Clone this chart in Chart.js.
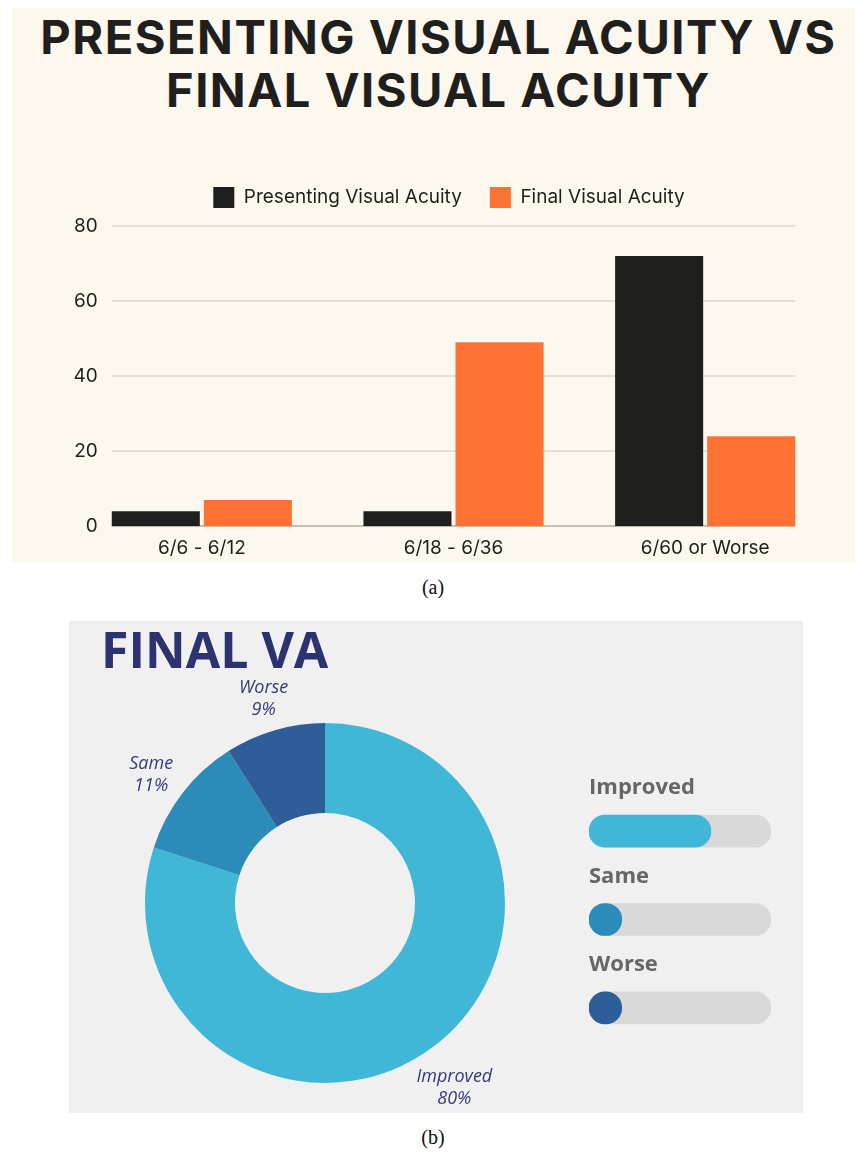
<!DOCTYPE html>
<html>
<head>
<meta charset="utf-8">
<script src="https://cdn.jsdelivr.net/npm/chart.js@4"></script>
<style>
  body { margin: 0; width: 855px; height: 1152px; background: #fff; position: relative; overflow: hidden; }
  #panelA { position: absolute; left: 12px; top: 8px; width: 843px; height: 554px; background: #fcf8ee; }
  #titleA { position: absolute; left: 0; top: 10px; width: 877px; text-align: center;
    font-family: Inter, sans-serif; font-weight: 700; font-size: 47px; line-height: 53px;
    letter-spacing: 1.5px; color: #1f201d; }
  #barCanvas { position: absolute; left: 12px; top: 150px; }
  #panelB { position: absolute; left: 69px; top: 621px; width: 734px; height: 492px; background: #f0f0f0; }
  #titleB { position: absolute; left: 101px; top: 615px; font-family: "Open Sans", sans-serif;
    font-weight: 700; font-size: 50px; color: #2d3270; }
  #pieCanvas { position: absolute; left: 69px; top: 621px; }
  #progCanvas { position: absolute; left: 570px; top: 750px; }
  .cap { position: absolute; left: 403px; width: 60px; text-align: center;
    font-family: "Liberation Serif", serif; font-size: 20px; color: #111; }
</style>
</head>
<body>
<div id="panelA"></div>
<div id="titleA">PRESENTING VISUAL ACUITY VS<br>FINAL VISUAL ACUITY</div>
<canvas id="barCanvas" width="843" height="424"></canvas>
<div class="cap" style="top:576px;">(a)</div>

<div id="panelB"></div>
<div id="titleB">FINAL VA</div>
<canvas id="pieCanvas" width="500" height="492"></canvas>
<canvas id="progCanvas" width="220" height="320"></canvas>
<div class="cap" style="top:1126px;">(b)</div>

<script>
// bar chart data
const vaCategories = ["6/6 - 6/12", "6/18 - 6/36", "6/60 or Worse"];
const presentingVA = [4, 4, 72];
const finalVA = [7, 49, 24];
const yTicks = [0, 20, 40, 60, 80];

// donut data
const outcomeLabels = ["Improved", "Same", "Worse"];
const outcomePct = [80, 11, 9];
const outcomeColors = ["#41b7d7", "#2b8bb9", "#2d5e97"];

// progress bars as drawn (percent of track)
const progressFill = [67, 18, 18];
const progressTrack = [100, 100, 100];

const tickFont = "19px Inter, sans-serif";

// gridlines + y labels only across the bar span
const spanGrid = {
  id: "spanGrid",
  beforeDatasetsDraw(chart) {
    const ctx = chart.ctx;
    const y = chart.scales.y;
    const first = chart.getDatasetMeta(0).data[0];
    const last = chart.getDatasetMeta(1).data[vaCategories.length - 1];
    const x0 = first.x - first.width / 2;
    const x1 = last.x + last.width / 2;
    ctx.save();
    yTicks.forEach(v => {
      const py = Math.round(y.getPixelForValue(v));
      ctx.strokeStyle = v === 0 ? "#c3bfb6" : "#dcd7cc";
      ctx.lineWidth = v === 0 ? 2 : 1.5;
      ctx.beginPath();
      ctx.moveTo(x0, py);
      ctx.lineTo(x1, py);
      ctx.stroke();
      ctx.fillStyle = "#1f201d";
      ctx.font = tickFont;
      ctx.textAlign = "right";
      ctx.textBaseline = "middle";
      ctx.fillText(String(v), x0 - 14, py);
    });
    ctx.restore();
  }
};

const fixedLegend = {
  id: "fixedLegend",
  beforeInit(chart) {
    const fit = chart.legend.fit;
    chart.legend.fit = function () {
      fit.bind(chart.legend)();
      this.height = 67;
    };
  }
};

new Chart(document.getElementById("barCanvas"), {
  type: "bar",
  data: {
    labels: vaCategories,
    datasets: [
      { label: "Presenting Visual Acuity", data: presentingVA, backgroundColor: "#1e1f1c" },
      { label: "Final Visual Acuity", data: finalVA, backgroundColor: "#fe7333" }
    ]
  },
  options: {
    responsive: false,
    animation: false,
    categoryPercentage: 0.7316,
    barPercentage: 0.9565,
    layout: { padding: { left: 55, right: 24, top: 9, bottom: 3 } },
    plugins: {
      tooltip: { enabled: false },
      legend: {
        position: "top",
        labels: {
          boxWidth: 21, boxHeight: 21, padding: 28, color: "#1f201d",
          font: { family: "Inter, sans-serif", size: 19 }
        }
      }
    },
    scales: {
      x: {
        offset: true,
        grid: { display: false, drawTicks: false },
        border: { display: false },
        ticks: { padding: 11, color: "#1f201d", font: { family: "Inter, sans-serif", size: 19 } }
      },
      y: {
        min: 0, max: 80,
        afterFit(scale) { scale.width = 9; },
        grid: { display: false, drawTicks: false },
        border: { display: false },
        ticks: { display: false, stepSize: 20 }
      }
    }
  },
  plugins: [spanGrid, fixedLegend]
});

// donut outside labels
const outsideLabels = {
  id: "outsideLabels",
  afterDatasetsDraw(chart) {
    const ctx = chart.ctx;
    ctx.save();
    ctx.font = "italic 18px 'Open Sans', sans-serif";
    ctx.fillStyle = "#363b77";
    ctx.textAlign = "center";
    ctx.textBaseline = "middle";
    chart.getDatasetMeta(0).data.forEach((arc, i) => {
      const p = arc.getProps(["x", "y", "startAngle", "endAngle", "outerRadius"]);
      const mid = (p.startAngle + p.endAngle) / 2;
      const r = p.outerRadius + 40;
      const cx = p.x + Math.cos(mid) * r;
      const cy = p.y + Math.sin(mid) * r;
      ctx.fillText(outcomeLabels[i], cx, cy - 4);
      ctx.fillText(outcomePct[i] + "%", cx, cy + 18);
    });
    ctx.restore();
  }
};

new Chart(document.getElementById("pieCanvas"), {
  type: "doughnut",
  data: {
    labels: outcomeLabels,
    datasets: [{ data: outcomePct, backgroundColor: outcomeColors, borderWidth: 0 }]
  },
  options: {
    responsive: false,
    animation: false,
    cutout: "50%",
    layout: { padding: { left: 76, right: 64, top: 102, bottom: 30 } },
    plugins: { legend: { display: false }, tooltip: { enabled: false } }
  },
  plugins: [outsideLabels]
});

// progress bar labels above each track
const progLabels = {
  id: "progLabels",
  afterDatasetsDraw(chart) {
    const ctx = chart.ctx;
    ctx.save();
    ctx.font = "700 22px 'Open Sans', sans-serif";
    ctx.fillStyle = "#666666";
    ctx.textAlign = "left";
    ctx.textBaseline = "alphabetic";
    chart.getDatasetMeta(1).data.forEach((bar, i) => {
      ctx.fillText(outcomeLabels[i], chart.scales.x.getPixelForValue(0), bar.y - 37);
    });
    ctx.restore();
  }
};

new Chart(document.getElementById("progCanvas"), {
  type: "bar",
  data: {
    labels: outcomeLabels,
    datasets: [
      { data: progressFill, backgroundColor: outcomeColors, grouped: false,
        barThickness: 32, borderRadius: 16, borderSkipped: false },
      { data: progressTrack, backgroundColor: "#d9d9d9", grouped: false,
        barThickness: 32, borderRadius: 16, borderSkipped: false }
    ]
  },
  options: {
    indexAxis: "y",
    responsive: false,
    animation: false,
    layout: { padding: { left: 19, right: 19, top: 37, bottom: 18 } },
    plugins: { legend: { display: false }, tooltip: { enabled: false } },
    scales: {
      x: { display: false, min: 0, max: 100 },
      y: { display: false, offset: true }
    }
  },
  plugins: [progLabels]
});
</script>
</body>
</html>
